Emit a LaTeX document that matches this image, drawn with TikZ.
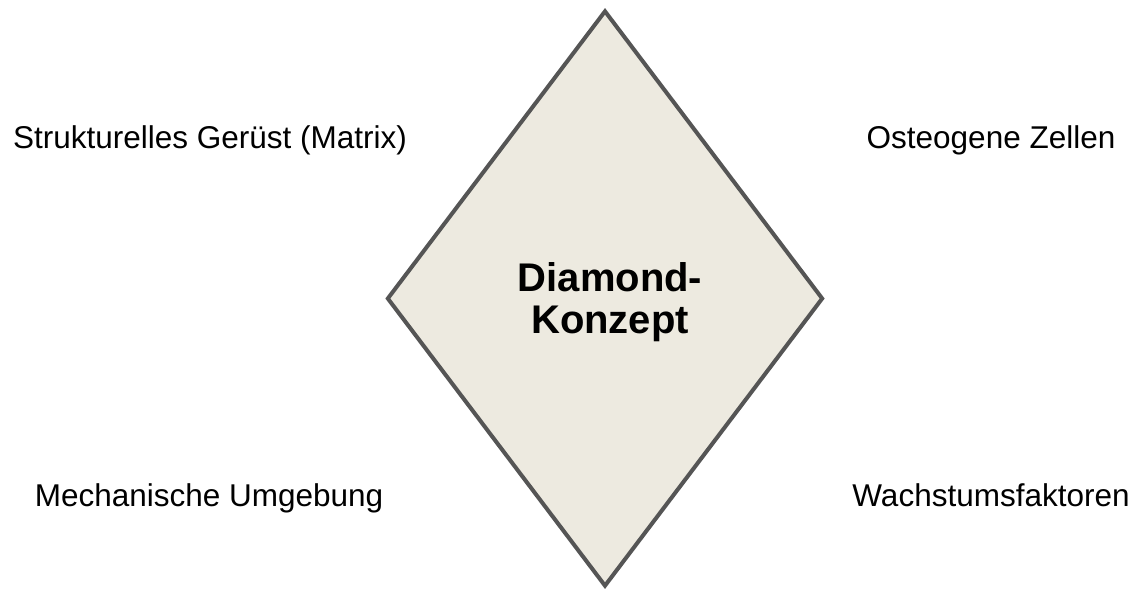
\documentclass[tikz,border=0pt]{standalone}
\usepackage{fontspec}
\setmainfont{Liberation Sans}
\usetikzlibrary{shapes.geometric}
\definecolor{dfill}{HTML}{EDEAE0}
\definecolor{dline}{HTML}{555555}
\tikzset{
  dshape/.style={diamond, draw=dline, fill=dfill, line width=4pt, inner sep=0pt, minimum width=436pt, minimum height=576pt},
  lbl/.style={anchor=base, inner sep=0pt, font=\fontsize{31.5}{38}\selectfont},
  ctext/.style={align=center, inner sep=0pt, font=\fontsize{40}{42}\selectfont\bfseries}
}
\begin{document}
\begin{tikzpicture}[x=1pt,y=-1pt]
\useasboundingbox (0,0) rectangle (1140,590);
\node[dshape] (d) at (605,298.5) {};
\node[ctext] (t) at (610,302) {Diamond-\\Konzept};
\node[lbl] (sg) at (210,148) {Strukturelles Gerüst (Matrix)};
\node[lbl] (oz) at (991,148) {Osteogene Zellen};
\node[lbl] (mu) at (209,506) {Mechanische Umgebung};
\node[lbl] (wf) at (991,506) {Wachstumsfaktoren};
\end{tikzpicture}
\end{document}
